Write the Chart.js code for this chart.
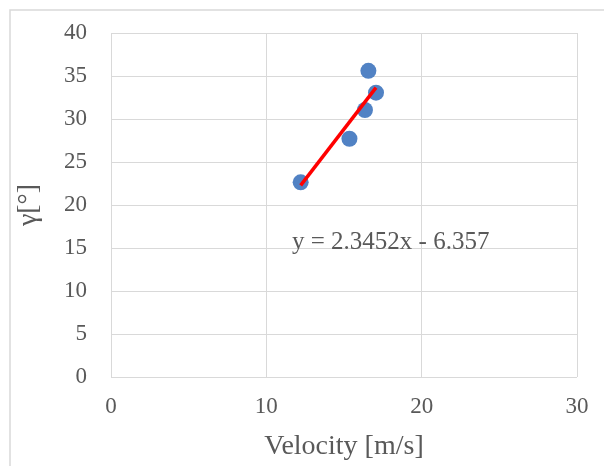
<!DOCTYPE html>
<html>
<head>
<meta charset="utf-8">
<script src="https://cdn.jsdelivr.net/npm/chart.js@4/dist/chart.umd.min.js"></script>
<style>
  html, body { margin: 0; padding: 0; background: #fff; }
  #wrap { width: 604px; height: 466px; position: relative; }
</style>
</head>
<body>
<div id="wrap"><canvas id="velocity-chart" width="604" height="466"></canvas></div>
<script>
// measured samples: velocity (m/s) vs angle gamma (deg)
const velocity = [12.21, 15.35, 16.35, 16.57, 17.06];
const gamma    = [22.64, 27.70, 31.05, 35.60, 33.06];

// linear trendline as reported on the chart
const slope = 2.3452;
const intercept = -6.357;
const equationText = "y = 2.3452x - 6.357";
const equationAt = [11.65, 15.6];   // left edge / middle of the label, data units

const xTicks = [0, 10, 20, 30];
const yTicks = [0, 5, 10, 15, 20, 25, 30, 35, 40];

const textColor = "#595959";
const gridColor = "#d9d9d9";
const serif = "'Liberation Serif', 'Times New Roman', serif";

const xMin = Math.min(...velocity);
const xMax = Math.max(...velocity);
const trend = [
    { x: xMin, y: slope * xMin + intercept },
    { x: xMax, y: slope * xMax + intercept },
];

// light frame around the whole chart
const frame = {
    id: "frame",
    beforeDraw(chart) {
        const ctx = chart.ctx;
        ctx.save();
        ctx.strokeStyle = "#d9d9d9";
        ctx.lineWidth = 1.5;
        ctx.strokeRect(10, 10, 700, 700);
        ctx.restore();
    },
};

// trendline equation text
const equation = {
    id: "equation",
    afterDatasetsDraw(chart) {
        const ctx = chart.ctx;
        const x = chart.scales.x.getPixelForValue(equationAt[0]);
        const y = chart.scales.y.getPixelForValue(equationAt[1]);
        ctx.save();
        ctx.font = "25px " + serif;
        ctx.fillStyle = textColor;
        ctx.textAlign = "left";
        ctx.textBaseline = "middle";
        ctx.fillText(equationText, x, y);
        ctx.restore();
    },
};

new Chart(document.getElementById("velocity-chart"), {
    type: "scatter",
    data: {
        datasets: [
            {
                label: "Trendline",
                type: "line",
                data: trend,
                borderColor: "#ff0000",
                borderWidth: 3.5,
                pointRadius: 0,
                fill: false,
                order: 0,
            },
            {
                label: "γ",
                data: velocity.map((v, i) => ({ x: v, y: gamma[i] })),
                backgroundColor: "#5182c4",
                borderWidth: 0,
                pointRadius: 8,
                order: 1,
            },
        ],
    },
    options: {
        responsive: false,
        animation: false,
        layout: { padding: { top: 33, right: 27, left: 0, bottom: 0 } },
        plugins: {
            legend: { display: false },
            tooltip: { enabled: false },
        },
        scales: {
            x: {
                type: "linear",
                min: 0, max: 30,
                afterBuildTicks: s => { s.ticks = xTicks.map(v => ({ value: v })); },
                afterFit: s => { s.height = 89; s.paddingLeft = 0; s.paddingRight = 0; },
                grid: { color: gridColor, lineWidth: 1, drawTicks: false },
                border: { display: false },
                ticks: {
                    color: textColor,
                    font: { family: serif, size: 23 },
                    padding: 16,
                },
                title: {
                    display: true,
                    text: "Velocity [m/s]",
                    color: textColor,
                    font: { family: serif, size: 28 },
                    padding: { top: 0, bottom: 3 },
                },
            },
            y: {
                type: "linear",
                min: 0, max: 40,
                afterBuildTicks: s => { s.ticks = yTicks.map(v => ({ value: v })); },
                afterFit: s => { s.width = 111; s.paddingTop = 0; s.paddingBottom = 0; },
                grid: { color: gridColor, lineWidth: 1, drawTicks: false },
                border: { display: false },
                ticks: {
                    color: textColor,
                    font: { family: serif, size: 23 },
                    padding: 24,
                },
                title: {
                    display: true,
                    text: "γ[°]",
                    color: textColor,
                    font: { family: serif, size: 28 },
                    padding: { top: 12, bottom: 0 },
                },
            },
        },
    },
    plugins: [frame, equation],
});
</script>
</body>
</html>
